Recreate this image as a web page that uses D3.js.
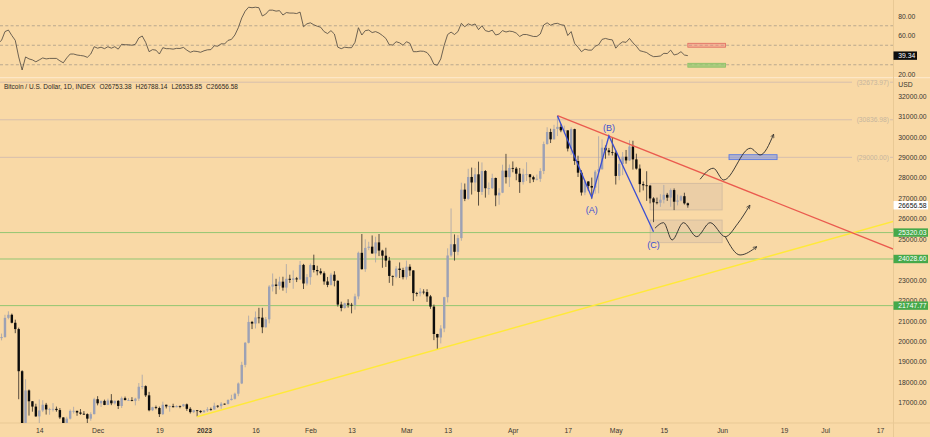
<!DOCTYPE html>
<html>
<head>
<meta charset="utf-8">
<script src="https://cdn.jsdelivr.net/npm/d3@7"></script>
<style>
  html, body { margin: 0; padding: 0; background: #f9d9a6; }
  svg { display: block; font-family: "Liberation Sans", Arial, sans-serif; }
</style>
</head>
<body>
<div id="chart"></div>
<script>
// daily candles [open, high, low, close], Nov 2 2022 -> May 22 2023
var nov22 = [
  [20480,20790,20050,20160],[20160,20380,20050,20210],[20210,21300,20180,21150],[21150,21470,21080,21300],
  [21300,21360,20880,20910],[20910,21060,20400,20600],[20600,20670,17170,18540],[18540,18590,15590,15880],
  [15880,18150,15760,17600],[17600,17650,16370,17070],[17070,17080,16560,16810],[16810,16950,16310,16330],
  [16330,17160,15820,16620],[16620,17120,16540,16900],[16900,16990,16420,16670],[16670,16750,16410,16690],
  [16690,16980,16570,16700],[16700,16810,16560,16640],[16640,16740,16200,16280],[16280,16290,15480,15780],
  [15780,16310,15620,16220],[16220,16670,16180,16600],[16600,16800,16470,16600],[16600,16610,16360,16520],
  [16520,16690,16410,16460],[16460,16590,16400,16440],[16440,16480,16000,16220],[16220,16530,16120,16440],
  [16440,17240,16430,17170]
]
var dec22 = [
  [17170,17320,16870,16970],[16970,17100,16790,17090],[17090,17150,16880,16890],[16890,17200,16880,17110],
  [17110,17420,16880,16970],[16970,17110,16910,17090],[17090,17130,16690,16840],[16840,17300,16740,17220],
  [17220,17300,17110,17130],[17130,17220,17090,17130],[17130,17270,17070,17090],[17090,17240,16870,17200],
  [17200,17960,17090,17780],[17780,18370,17660,17810],[17810,17850,17280,17360],[17360,17530,16580,16630],
  [16630,16800,16590,16780],[16780,16860,16680,16740],[16740,16810,16300,16440],[16440,17050,16400,16900],
  [16900,16900,16720,16820],[16820,16860,16560,16830],[16830,16950,16770,16780],[16780,16870,16780,16840],
  [16840,16860,16730,16830],[16830,16940,16790,16920],[16920,16960,16600,16700],[16700,16780,16470,16540],
  [16540,16650,16490,16630],[16630,16640,16330,16600],[16600,16630,16490,16540]
]
var jan23 = [
  [16540,16630,16500,16620],[16620,16780,16550,16680],[16680,16760,16610,16670],[16670,17000,16660,16850],
  [16850,16880,16750,16830],[16830,17030,16700,16950],[16950,16960,16900,16940],[16940,17170,16910,17130],
  [17130,17390,17110,17190],[17190,17490,17150,17440],[17440,17990,17320,17940],[17940,19000,17910,18850],
  [18850,19970,18730,19930],[19930,21260,19900,20950],[20950,21000,20600,20870],[20870,21460,20630,21170],
  [21170,21640,20880,21160],[21160,21640,20400,20690],[20690,21190,20670,21080],[21080,22750,20880,22680],
  [22680,23320,22440,22780],[22780,23060,22310,22710],[22710,23160,22530,22920],[22920,23160,22480,22630],
  [22630,23780,22360,23060],[23060,23260,22860,23010],[23010,23470,22570,23080],[23080,23150,22900,23030],
  [23030,23930,23000,23740],[23740,23790,22560,22830],[22830,23290,22730,23140]
]
var feb23 = [
  [23140,23810,22770,23730],[23730,24240,23370,23490],[23490,23700,23230,23430],[23430,23570,23260,23330],
  [23330,23420,22770,22930],[22930,23150,22650,22760],[22760,23350,22730,23260],[23260,23430,22690,22960],
  [22960,22990,21700,21800],[21800,21940,21470,21630],[21630,21890,21600,21860],[21860,22060,21650,21790],
  [21790,21880,21370,21780],[21780,22330,21550,22200],[22200,24390,22060,24330],[24330,25250,23510,23530],
  [23530,24990,23400,24570],[24570,24870,24460,24630],[24630,25180,24280,24300],[24300,25120,23860,24840],
  [24840,25250,24170,24440],[24440,24480,23600,24190],[24190,24580,23640,23950],[23950,24130,22860,23200],
  [23200,23220,22720,23160],[23160,23680,23090,23560],[23560,23860,23100,23490],[23490,23600,23030,23140]
]
var mar23 = [
  [23140,23950,23020,23650],[23650,23770,23200,23470],[23470,23480,21970,22360],[22360,22420,22200,22350],
  [22350,22610,22200,22430],[22430,22550,22300,22410],[22410,22550,21930,22200],[22200,22270,21590,21700],
  [21700,21800,20060,20360],[20360,20370,19600,20190],[20190,20790,19900,20630],[20630,22180,20450,22160],
  [22160,24550,21900,24200],[24200,26500,24130,24750],[24750,25230,23950,24380],[24380,25200,24210,25050],
  [25050,27760,24920,27420],[27420,27720,26860,26970],[26970,28440,26920,28040],[28040,28500,27180,27770],
  [27770,28480,27350,28170],[28170,28790,26640,27310],[27310,28750,27160,28330],[28330,28380,27030,27490],
  [27490,27770,27170,27490],[27490,28200,27450,27990],[27990,28010,26610,27140],[27140,27490,26680,27270],
  [27270,28640,27250,28350],[28350,29170,27720,28030],[28030,28650,27550,28480]
]
var apr23 = [
  [28480,28800,28270,28450],[28450,28530,27880,28200],[28200,28480,27260,27790],[27790,28440,27670,28170],
  [28170,28760,27840,28170],[28170,28180,27740,28030],[28030,28100,27790,27920],[27920,28160,27870,27950],
  [27950,28470,27800,28330],[28330,29770,28180,29650],[29650,30470,29620,30240],[30240,30400,29700,29880],
  [29880,30590,29870,30390],[30390,31000,30040,30490],[30490,30620,30230,30320],[30320,30550,30160,30320],
  [30320,30320,29290,29430],[29430,30470,29110,30380],[30380,30400,28630,28820],[28820,29080,28040,28250],
  [28250,28370,27130,27280],[27280,27900,27150,27820],[27820,27830,27360,27600],[27600,28010,26980,27520],
  [27520,28380,27220,28300],[28300,30030,27240,28420],[28420,29880,28390,29470],[29470,29580,28930,29340],
  [29340,29460,29090,29250],[29250,29960,29090,29230]
]
var may23 = [
  [29230,29330,27670,28090],[28090,28880,27880,28680],[28680,29260,28130,29030],[29030,29360,28690,28850],
  [28850,29840,28820,29530],[29530,29810,28400,28900],[28900,29180,28400,28450],[28450,28650,27290,27690],
  [27690,27820,27380,27630],[27630,28320,26870,27620],[27620,27630,26750,26990],[26990,27050,25830,26800],
  [26800,27030,26700,26780],[26780,27200,26580,26930],[26930,27650,26750,27170],[27170,27260,26870,27030],
  [27030,27480,26580,27400],[27400,27480,26420,26830],[26830,27180,26650,26890],[26890,27150,26850,27100],
  [27100,27270,26690,26750],[26753.38,26788.14,26535.85,26656.58]
]

// RSI(14) per day
var rsiNov = [52,55,64,65.6,60,55,38,24.6,38,36,35,33,35,37,36,36.5,36.5,36.5,34,32,37,41,41,40,39.5,39,37.6,41,48.5]
var rsiDec = [47,48,46.5,48.5,47,48.5,46,51,50.5,50.5,50,51,57.5,59.5,53,43.4,45.5,45,41,47.5,46.5,46.5,46,46.8,46.7,47.8,45,42.8,44,43.6,42.8]
var rsiJan = [44.3,45.3,45.5,49.5,49,51.5,51.3,55,56,60.5,68,78,85,89,88.5,89,88.5,80,82,86,86,85,85.5,81,83.5,83,83,82.5,84,69,72]
var rsiFeb = [73,71,69.5,68.5,64,62,65,61.5,48,46.5,48,47.5,47.5,53,68,60.5,65,65.6,63,64,62.5,60,57,50.5,50.3,53.6,52.5,50]
var rsiMar = [53.6,52,43.4,43.4,44,43.8,42.5,38,30.5,29.5,36,50,61,63.5,61,64,72.5,69,72,70.5,71.8,66,70,65,64,65.5,60.5,61.5,65,63.6,64.5]
var rsiApr = [64,62.5,59,61,61,60,59,59,61.5,70.8,73,70.5,72,72.5,71,70.5,60,64,52,48,43.4,46,45,45,49,50.5,56,57,56,55.5]
var rsiMay = [47,51,53.5,53,57,52.5,49,44.4,43.5,42.5,40,38.3,38.5,39,41.7,41.5,45,40,41,43.4,40,39.34]

var xTickDates = ["2022-11-14","2022-12-01","2022-12-19","2023-01-01","2023-01-16","2023-02-01","2023-02-13","2023-03-01",
  "2023-03-13","2023-04-01","2023-04-17","2023-05-01","2023-05-15","2023-06-01","2023-06-19","2023-07-01","2023-07-17"]
var xTickLabels = ["14","Dec","19","2023","16","Feb","13","Mar","13","Apr","17","May","15","Jun","19","Jul","17"]
var priceTicks = [17000,18000,19000,20000,21000,22000,23000,24000,25000,26000,27000,28000,29000,30000,31000,32000]
var rsiTicks = [20,40,60,80]
var rsiBands = [70,50,30]

// drawings
var greyLevels = [32673.97, 30836.98, 29000.00]
var greenLevels = [25320.03, 24028.60, 21747.77]
var redTrend = [["2023-04-14",31040],["2023-07-25",24239]]
var yellowTrend = [["2022-12-30",16315],["2023-07-25",26060]]
var abcPoints = [["2023-04-14",31040],["2023-04-24",27030],["2023-04-29",30045],["2023-05-12",25365]]
var abcLabels = [["(A)","2023-04-24",26420],["(B)","2023-04-29",30430],["(C)","2023-05-12",24710]]
var rangeBoxes = [["2023-05-11","2023-06-01",27730,26425],["2023-05-11","2023-06-01",25935,24825]]
var blueBox = ["2023-06-03","2023-06-17",29130,28890]
var rsiBoxes = [["2023-05-22","2023-06-02",52,48,"rgba(240,130,125,0.45)","#e0685f"],
                ["2023-05-22","2023-06-02",31.5,27.5,"rgba(140,200,110,0.7)","#86bf63"]]
var upperWave = [["2023-05-25T14:00Z",27928],["2023-05-29T10:00Z",28466],["2023-06-01T10:00Z",27893],
                 ["2023-06-09T05:00Z",29444],["2023-06-12T02:00Z",29116],["2023-06-16T00:00Z",30129]]
var lowerWave = [["2023-05-12T10:00Z",25531],["2023-05-14T22:00Z",25805],["2023-05-17T10:00Z",24958],
                 ["2023-05-20T17:00Z",25805],["2023-05-24T14:00Z",25120],["2023-05-28T12:00Z",25805],
                 ["2023-06-01T22:00Z",25120],["2023-06-05T12:00Z",25750],["2023-06-09T02:00Z",26660]]
var lowerDrop = [["2023-06-01T22:00Z",25120],["2023-06-06T05:00Z",24225],["2023-06-11T02:00Z",24631]]

var svgWdth = 930
var svgHt = 437
var axisLeft = 893
var paneTop = 78
var paneBottom = 423
var bg = "#f9d9a6"
var textCol = "#3b3630"

var candles = [].concat(nov22, dec22, jan23, feb23, mar23, apr23, may23)
var rsi = [].concat(rsiNov, rsiDec, rsiJan, rsiFeb, rsiMar, rsiApr, rsiMay)
var firstDay = new Date(Date.UTC(2022, 10, 2))
var days = d3.utcDay.range(firstDay, d3.utcDay.offset(firstDay, candles.length))
var bars = candles.map(function (c, i) { return { date: days[i], o: c[0], h: c[1], l: c[2], c: c[3], rsi: rsi[i] } })
var P = function (s) { return d3.isoParse(s.length == 10 ? s + "T00:00:00Z" : s) }

var x = d3.scaleUtc().domain([P("2023-01-01"), P("2023-07-17")]).range([204, 880])
var y = d3.scaleLinear().domain([17000, 32000]).range([402.7, 96])
var yRsi = d3.scaleLinear().domain([20, 80]).range([74.5, 16])

var svg = d3.select("#chart").append("svg")
  .attr("width", svgWdth).attr("height", svgHt)
  .style("background", bg)

var defs = svg.append("defs")
defs.append("clipPath").attr("id", "clipPrice")
  .append("rect").attr("x", 0).attr("y", paneTop).attr("width", axisLeft).attr("height", paneBottom - paneTop)
defs.append("clipPath").attr("id", "clipRsi")
  .append("rect").attr("x", 0).attr("y", 0).attr("width", axisLeft).attr("height", 77)
defs.append("marker").attr("id", "arrow")
  .attr("viewBox", "0 0 10 10").attr("refX", 9).attr("refY", 5)
  .attr("markerWidth", 5).attr("markerHeight", 5).attr("orient", "auto")
  .append("path").attr("d", "M1,1 L9,5 L1,9")
  .attr("fill", "none").attr("stroke", "#2a2a2a").attr("stroke-width", 1.4)

// ---------- RSI pane ----------
var rsiG = svg.append("g").attr("clip-path", "url(#clipRsi)")

rsiG.selectAll(".band").data(rsiBands).enter().append("line")
  .attr("x1", 0).attr("x2", axisLeft)
  .attr("y1", function (d) { return yRsi(d) }).attr("y2", function (d) { return yRsi(d) })
  .attr("stroke", "#a99c88").attr("stroke-width", 0.8).attr("stroke-dasharray", "3,2.3")

rsiG.selectAll(".rbox").data(rsiBoxes).enter().append("rect")
  .attr("x", function (d) { return x(P(d[0])) })
  .attr("width", function (d) { return x(P(d[1])) - x(P(d[0])) })
  .attr("y", function (d) { return yRsi(d[2]) })
  .attr("height", function (d) { return yRsi(d[3]) - yRsi(d[2]) })
  .attr("fill", function (d) { return d[4] }).attr("stroke", function (d) { return d[5] }).attr("stroke-width", 0.8)

rsiG.append("path").datum(bars)
  .attr("d", d3.line().x(function (d) { return x(d.date) }).y(function (d) { return yRsi(d.rsi) }))
  .attr("fill", "none").attr("stroke", "#4a443c").attr("stroke-width", 0.8)

// separators
svg.append("line").attr("x1", 0).attr("x2", svgWdth).attr("y1", 77.7).attr("y2", 77.7)
  .attr("stroke", "#fde7c6").attr("stroke-width", 1.3)
svg.append("line").attr("x1", axisLeft + 0.5).attr("x2", axisLeft + 0.5).attr("y1", 0).attr("y2", svgHt)
  .attr("stroke", "#e9c995").attr("stroke-width", 1)
svg.append("line").attr("x1", 0).attr("x2", svgWdth).attr("y1", paneBottom).attr("y2", paneBottom)
  .attr("stroke", "#e9c995").attr("stroke-width", 1)

// ---------- price pane ----------
var chartGroup = svg.append("g").attr("clip-path", "url(#clipPrice)")

greyLevels.forEach(function (v) {
  chartGroup.append("line").attr("x1", 0).attr("x2", 852).attr("y1", y(v)).attr("y2", y(v))
    .attr("stroke", "#d7bfae").attr("stroke-width", 1)
  chartGroup.append("line").attr("x1", 890).attr("x2", axisLeft).attr("y1", y(v)).attr("y2", y(v))
    .attr("stroke", "#d7bfae").attr("stroke-width", 1)
  chartGroup.append("text").attr("x", 889).attr("y", y(v)).attr("dy", "0.35em")
    .attr("text-anchor", "end").attr("font-size", 6.7).attr("fill", "#c6b59e")
    .text("(" + d3.format(".2f")(v) + ")")
})

greenLevels.forEach(function (v) {
  chartGroup.append("line").attr("x1", 0).attr("x2", axisLeft).attr("y1", y(v)).attr("y2", y(v))
    .attr("stroke", "#93c672").attr("stroke-width", 1)
})

chartGroup.selectAll(".range").data(rangeBoxes).enter().append("rect")
  .attr("x", function (d) { return x(P(d[0])) })
  .attr("width", function (d) { return x(P(d[1])) - x(P(d[0])) })
  .attr("y", function (d) { return y(d[2]) })
  .attr("height", function (d) { return y(d[3]) - y(d[2]) })
  .attr("fill", "rgba(160,150,165,0.16)").attr("stroke", "rgba(150,140,150,0.35)").attr("stroke-width", 0.8)

chartGroup.append("rect")
  .attr("x", x(P(blueBox[0]))).attr("width", x(P(blueBox[1])) - x(P(blueBox[0])))
  .attr("y", y(blueBox[2])).attr("height", y(blueBox[3]) - y(blueBox[2]))
  .attr("fill", "rgba(120,145,235,0.55)").attr("stroke", "#5d7be0").attr("stroke-width", 0.9)

// candles
var bodyW = 2.4
var candle = chartGroup.selectAll(".candle").data(bars).enter().append("g")
candle.append("line")
  .attr("x1", function (d) { return x(d.date) }).attr("x2", function (d) { return x(d.date) })
  .attr("y1", function (d) { return y(d.h) }).attr("y2", function (d) { return y(d.l) })
  .attr("stroke", function (d) { return d.c >= d.o ? "#a5a3aa" : "#2f2a25" }).attr("stroke-width", 0.8)
candle.append("rect")
  .attr("x", function (d) { return x(d.date) - bodyW / 2 }).attr("width", bodyW)
  .attr("y", function (d) { return y(Math.max(d.o, d.c)) })
  .attr("height", function (d) { return Math.max(0.8, Math.abs(y(d.o) - y(d.c))) })
  .attr("fill", function (d) { return d.c >= d.o ? "#9ca1b5" : "#0c0c0c" })

var trendLine = d3.line().x(function (d) { return x(P(d[0])) }).y(function (d) { return y(d[1]) })
chartGroup.append("path").datum(yellowTrend).attr("d", trendLine)
  .attr("fill", "none").attr("stroke", "#ffe93a").attr("stroke-width", 1.5)
chartGroup.append("path").datum(redTrend).attr("d", trendLine)
  .attr("fill", "none").attr("stroke", "#ea5a4e").attr("stroke-width", 1.3)
chartGroup.append("path").datum(abcPoints).attr("d", trendLine)
  .attr("fill", "none").attr("stroke", "#3c4fd2").attr("stroke-width", 1.3)

chartGroup.selectAll(".abc").data(abcLabels).enter().append("text")
  .attr("x", function (d) { return x(P(d[1])) }).attr("y", function (d) { return y(d[2]) })
  .attr("dy", "0.35em").attr("text-anchor", "middle").attr("font-size", 9).attr("fill", "#3c4fd2")
  .text(function (d) { return d[0] })

var waveLine = d3.line().curve(d3.curveMonotoneX)
  .x(function (d) { return x(P(d[0])) }).y(function (d) { return y(d[1]) })
;[upperWave, lowerWave, lowerDrop].forEach(function (w) {
  chartGroup.append("path").datum(w).attr("d", waveLine)
    .attr("fill", "none").attr("stroke", "#2a2a2a").attr("stroke-width", 0.9)
    .attr("marker-end", "url(#arrow)")
})

// header
svg.append("text").attr("x", 4).attr("y", 87).attr("dy", "0.35em")
  .attr("font-size", 6.5).attr("fill", "#2c2824")
  .text("Bitcoin / U.S. Dollar, 1D, INDEX")
  .selectAll("tspan").data(["O26753.38", "H26788.14", "L26535.85", "C26656.58"]).enter()
  .append("tspan").attr("dx", 4).text(function (d) { return d })

// ---------- axes ----------
var xAxis = svg.append("g").attr("transform", "translate(0," + paneBottom + ")")
  .call(d3.axisBottom(x).tickValues(xTickDates.map(P))
    .tickFormat(function (d, i) { return xTickLabels[i] }).tickSize(0).tickPadding(5.3))
xAxis.select(".domain").remove()
xAxis.selectAll("text").attr("font-size", 6.8).attr("fill", textCol).attr("font-family", null)
  .attr("font-weight", function (d, i) { return xTickLabels[i] == "2023" ? "bold" : null })

var yAxis = svg.append("g").attr("transform", "translate(" + axisLeft + ",0)")
  .call(d3.axisRight(y).tickValues(priceTicks).tickFormat(d3.format(".2f")).tickSize(0).tickPadding(5.3))
yAxis.select(".domain").remove()
yAxis.selectAll("text").attr("font-size", 6.8).attr("fill", textCol)

var rAxis = svg.append("g").attr("transform", "translate(" + axisLeft + ",0)")
  .call(d3.axisRight(yRsi).tickValues(rsiTicks).tickFormat(d3.format(".2f")).tickSize(0).tickPadding(5.3))
rAxis.select(".domain").remove()
rAxis.selectAll("text").attr("font-size", 6.8).attr("fill", textCol)

svg.append("text").attr("x", 898.3).attr("y", 84.5).attr("dy", "0.35em")
  .attr("font-size", 6.8).attr("fill", textCol).text("USD")

// tags on the right axis
function tag(yy, w, fill, col, label) {
  svg.append("rect").attr("x", axisLeft + 0.5).attr("y", yy - 4.2).attr("width", w).attr("height", 8.4)
    .attr("fill", fill)
  svg.append("text").attr("x", 898.3).attr("y", yy).attr("dy", "0.35em")
    .attr("font-size", 6.8).attr("fill", col).text(label)
}
greenLevels.forEach(function (v) { tag(y(v), 34.5, "#46a94a", "#ffffff", d3.format(".2f")(v)) })
var last = bars[bars.length - 1]
tag(y(last.c), 34.5, "#ffffff", "#111111", d3.format(".2f")(last.c))
tag(yRsi(last.rsi), 23.5, "#0d0d0d", "#ffffff", d3.format(".2f")(last.rsi))
</script>
</body>
</html>
